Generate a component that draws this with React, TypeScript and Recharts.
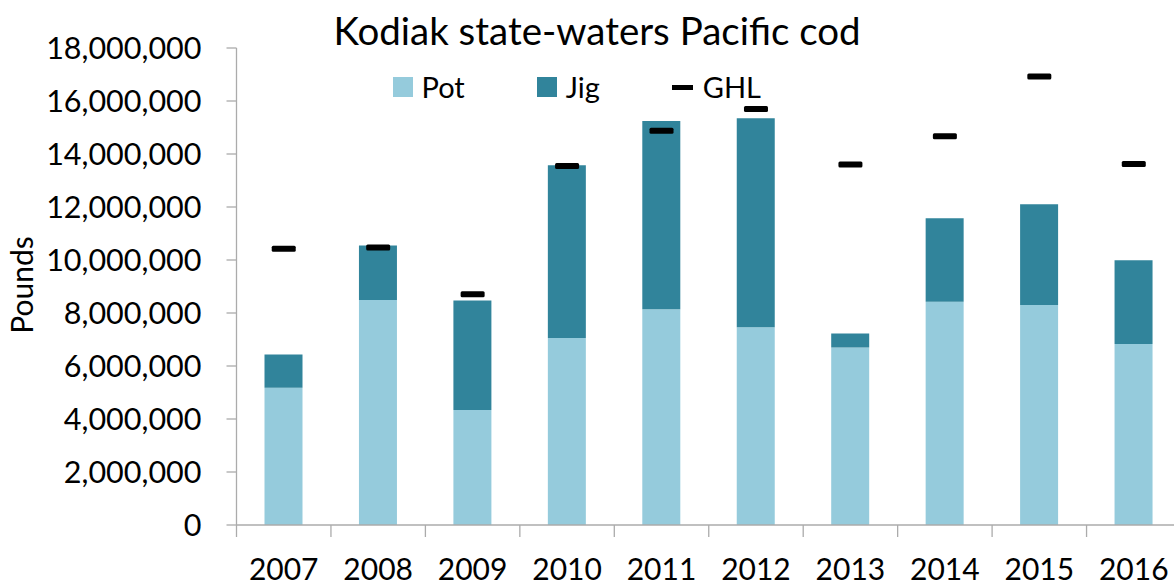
import React from "react";
import { ComposedChart, Bar, Line, XAxis, YAxis, Legend } from "recharts";

const years = ["2007", "2008", "2009", "2010", "2011", "2012", "2013", "2014", "2015", "2016"];
const pot = [5180000, 8490000, 4340000, 7060000, 8140000, 7460000, 6700000, 8420000, 8300000, 6830000];
const jig = [1250000, 2060000, 4130000, 6520000, 7110000, 7890000, 530000, 3160000, 3800000, 3160000];
const ghl = [10420000, 10470000, 8710000, 13550000, 14880000, 15700000, 13600000, 14670000, 16920000, 13620000];
const yTicks = [0, 2000000, 4000000, 6000000, 8000000, 10000000, 12000000, 14000000, 16000000, 18000000];
const legendOrder = ["pot", "jig", "ghl"];

const data = years.map((yr, i) => ({ yr, pot: pot[i], jig: jig[i], ghl: ghl[i] }));

const W = 1190;
const H = 584;
const M = { top: 48, right: 9, left: 0, bottom: 0 };
const Y_W = 236.5;
const BAND = (W - M.right - M.left - Y_W) / years.length;

const FONT = "Lato, 'Open Sans', sans-serif";
const POT = "#95cbdc";
const JIG = "#31849b";
const AXIS = "#ababab";

function YearTick(props: any) {
  const { x, y, payload } = props;
  const bx = x - BAND / 2;
  return (
    <g>
      <line x1={bx} y1={y} x2={bx} y2={y + 12} stroke={AXIS} strokeWidth={1.3} />
      <text x={x} y={y + 54.5} textAnchor="middle" fontSize={30} fontFamily={FONT} fill="#000">
        {payload.value}
      </text>
    </g>
  );
}

function GhlDash(props: any) {
  const { cx, cy } = props;
  if (cx == null || cy == null) return null;
  return <rect x={cx - 12} y={cy - 3} width={24} height={6} rx={1.5} fill="#000" />;
}

function LegendBox({ payload }: any) {
  const items = [...(payload || [])].sort(
    (a: any, b: any) => legendOrder.indexOf(a.dataKey) - legendOrder.indexOf(b.dataKey)
  );
  return (
    <div style={{ display: "flex", alignItems: "center", fontFamily: FONT, fontSize: 29, color: "#000", lineHeight: "30px" }}>
      {items.map((p: any) => (
        <div key={p.value} style={{ display: "flex", alignItems: "center", marginRight: 72 }}>
          {p.dataKey === "ghl" ? (
            <span style={{ display: "inline-block", width: 21, height: 5, background: "#000", marginRight: 10 }} />
          ) : (
            <span style={{ display: "inline-block", width: 20, height: 20, background: p.color, marginRight: 9 }} />
          )}
          <span>{p.value}</span>
        </div>
      ))}
    </div>
  );
}

function PoundsLabel() {
  return (
    <text transform="translate(33,285) rotate(-90)" textAnchor="middle" fontSize={30} fontFamily={FONT} fill="#000">
      Pounds
    </text>
  );
}

export default function App() {
  return (
    <div style={{ position: "absolute", left: 0, top: 0, width: 1174, height: 584, overflow: "hidden", background: "#fff" }}>
      <div
        style={{
          position: "absolute",
          left: 0,
          width: 1194,
          top: 7,
          textAlign: "center",
          fontFamily: FONT,
          fontSize: 38.5,
          color: "#000",
          lineHeight: "46px",
        }}
      >
        Kodiak state-waters Pacific cod
      </div>
      <ComposedChart width={W} height={H} data={data} margin={M}>
        <XAxis
          dataKey="yr"
          height={H - 525}
          axisLine={{ stroke: AXIS, strokeWidth: 1.3 }}
          tickLine={false}
          tickSize={0}
          tickMargin={0}
          tick={<YearTick />}
          interval={0}
        />
        <YAxis
          width={Y_W}
          domain={[0, 18000000]}
          ticks={yTicks}
          interval={0}
          axisLine={{ stroke: AXIS, strokeWidth: 1.3 }}
          tickLine={{ stroke: AXIS, strokeWidth: 1.3 }}
          tickSize={10}
          tickMargin={25}
          tick={{ fill: "#000", fontSize: 30.5, fontFamily: FONT }}
          tickFormatter={(v) => Number(v).toLocaleString("en-US")}
          label={<PoundsLabel />}
        />
        <Legend
          layout="vertical"
          align="center"
          verticalAlign="middle"
          content={<LegendBox />}
          wrapperStyle={{ position: "absolute", left: 392.5, top: 72, width: 600, height: 30 }}
        />
        <Bar dataKey="pot" name="Pot" stackId="a" fill={POT} barSize={38} isAnimationActive={false} />
        <Bar dataKey="jig" name="Jig" stackId="a" fill={JIG} barSize={38} isAnimationActive={false} />
        <Line dataKey="ghl" name="GHL" stroke="none" dot={<GhlDash />} activeDot={false} isAnimationActive={false} />
      </ComposedChart>
    </div>
  );
}
